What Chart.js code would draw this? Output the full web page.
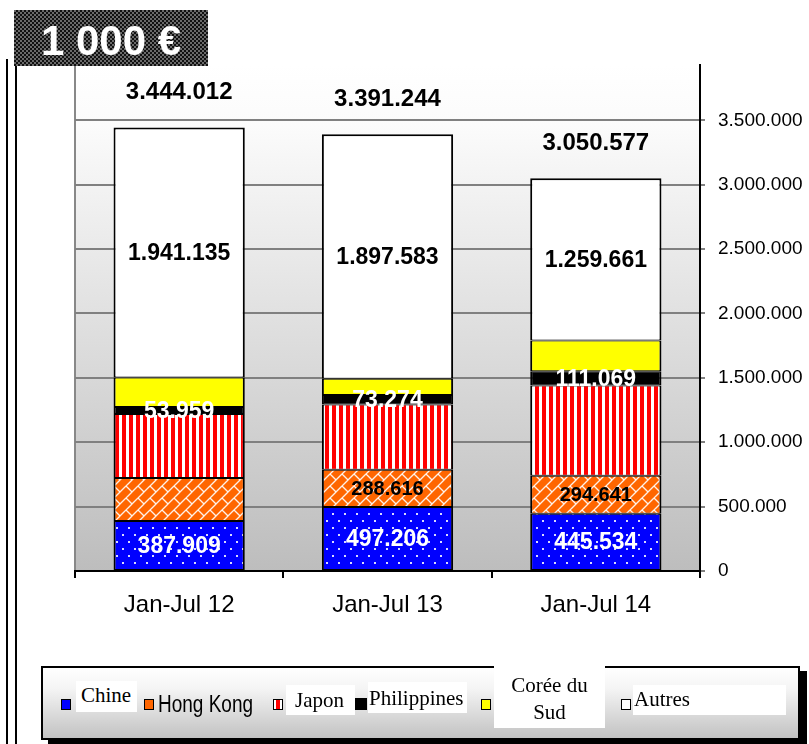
<!DOCTYPE html>
<html>
<head>
<meta charset="utf-8">
<script src="https://cdn.jsdelivr.net/npm/chart.js@4.4.1/dist/chart.umd.min.js"></script>
<style>
  body { margin: 0; background: #fff; }
  #wrap { position: relative; width: 809px; height: 744px; overflow: hidden; font-family: "Liberation Sans", Arial, sans-serif; }
  #myChart { position: absolute; left: 0; top: 0; }
  .vline { position: absolute; top: 59px; bottom: 0; background: #000; }
  #titre { position: absolute; left: 14px; top: 10px; width: 194px; height: 56px;
    background: repeating-conic-gradient(#111 0% 25%, #6a6a6a 0% 50%) 0 0 / 4px 4px;
    color: #fff; font: bold 42px "Liberation Sans", Arial, sans-serif; text-align: center; line-height: 62px; }
  #legende { position: absolute; left: 41px; top: 666px; width: 755px; height: 70px; border: 2px solid #000;
    background: linear-gradient(#ffffff 0%, #f4f4f4 30%, #c2c2c2 100%); box-shadow: 7px 5px 0 #000; }
  .mk { position: absolute; width: 8px; height: 9px; border: 1.5px solid #000; }
  .bx { position: absolute; background: #fff; font: 21px "Liberation Serif", "Times New Roman", serif; line-height: 21px; color: #000; white-space: nowrap; box-sizing: border-box; }
</style>
</head>
<body>
<div id="wrap">
  <canvas id="myChart" width="809" height="744"></canvas>
  <div class="vline" style="left:6px;width:2px"></div>
  <div class="vline" style="left:15px;width:1.5px"></div>
  <div id="titre">1 000 €</div>
  <div id="legende"></div>
  <!-- legend items, in page coordinates -->
  <div class="mk" style="left:61px;top:699px;background:#0000ff"></div>
  <div class="bx" style="left:76px;top:681px;width:61px;height:31px;padding:4px 0 0 5px">Chine</div>
  <div class="mk" style="left:144px;top:699px;background:#ff6600"></div>
  <div style="position:absolute;left:158px;top:696px;font:19px 'Liberation Sans',Arial,sans-serif;line-height:19px;transform:scaleY(1.3);transform-origin:0 16px;white-space:nowrap">Hong Kong</div>
  <div class="mk" style="left:273px;top:699px;background:linear-gradient(90deg,#fff 0 30%,#f00 30% 70%,#fff 70%)"></div>
  <div class="bx" style="left:286px;top:685px;width:69px;height:30px;padding:5px 0 0 9px">Japon</div>
  <div class="mk" style="left:355px;top:698px;width:10px;height:10px;background:#000"></div>
  <div class="bx" style="left:368px;top:682px;width:99px;height:31px;padding:6px 0 0 1px">Philippines</div>
  <div class="mk" style="left:481px;top:699px;background:#ffff00"></div>
  <div class="bx" style="left:494px;top:666px;width:111px;height:62px;padding-top:6px;line-height:27px;text-align:center">Corée du<br>Sud</div>
  <div class="mk" style="left:621px;top:699px;background:#fff"></div>
  <div class="bx" style="left:633px;top:685px;width:153px;height:30px;padding:4px 0 0 1px">Autres</div>
</div>
<script>
// Données (en 1 000 €)
const periodes = ['Jan-Jul 12', 'Jan-Jul 13', 'Jan-Jul 14'];
const chine = [387909, 497206, 445534];
const hongKong = [335000, 288616, 294641];
const japon = [497000, 507000, 700000];
const philippines = [53959, 73274, 111069];
const coreeDuSud = [229009, 127565, 239672];
const autres = [1941135, 1897583, 1259661];
const totaux = [3444012, 3391244, 3050577];
const yTicks = [0, 500000, 1000000, 1500000, 2000000, 2500000, 3000000, 3500000];

function fmt(v) {
    return String(v).replace(/\B(?=(\d{3})+(?!\d))/g, '.');
}

function motif(w, h, draw) {
    const c = document.createElement('canvas');
    c.width = w; c.height = h;
    const g = c.getContext('2d');
    draw(g, w, h);
    return g.createPattern(c, 'repeat');
}

const bleuPoints = motif(12, 14, (g, w, h) => {
    g.fillStyle = '#0000ff'; g.fillRect(0, 0, w, h);
    g.fillStyle = 'rgba(255,255,255,0.85)';
    g.fillRect(2, 2, 2, 2);
    g.fillRect(8, 9, 2, 2);
});
const orangeBriques = motif(12, 12, (g, w, h) => {
    g.fillStyle = '#ff6600'; g.fillRect(0, 0, w, h);
    g.strokeStyle = 'rgba(255,255,255,0.9)'; g.lineWidth = 1.3;
    for (let o = -12; o <= 12; o += 12) {
        g.beginPath(); g.moveTo(-2 + o, 14); g.lineTo(14 + o, -2); g.stroke();
    }
    g.beginPath(); g.moveTo(6, 6); g.lineTo(12, 12); g.stroke();
});
const rougeRayures = motif(7, 4, (g, w, h) => {
    g.fillStyle = '#ff0000'; g.fillRect(0, 0, w, h);
    g.fillStyle = '#ffffff'; g.fillRect(0, 0, 3, h);
});

const fond = {
    id: 'fond',
    beforeDraw(chart) {
        const { ctx, chartArea: a } = chart;
        const grad = ctx.createLinearGradient(0, a.top, 0, a.bottom);
        grad.addColorStop(0, '#ffffff');
        grad.addColorStop(0.12, '#fbfbfb');
        grad.addColorStop(1, '#bdbdbd');
        ctx.save();
        ctx.fillStyle = grad;
        ctx.fillRect(a.left, a.top, a.right - a.left, a.bottom - a.top);
        ctx.strokeStyle = '#888';
        ctx.lineWidth = 2;
        ctx.beginPath(); ctx.moveTo(a.left, a.top); ctx.lineTo(a.left, a.bottom); ctx.stroke();
        ctx.restore();
    }
};

const etiquettes = {
    id: 'etiquettes',
    afterDatasetsDraw(chart) {
        const ctx = chart.ctx;
        ctx.save();
        ctx.textAlign = 'center';
        ctx.textBaseline = 'middle';
        chart.data.datasets.forEach((ds, i) => {
            if (!ds.labelColor) return;
            const meta = chart.getDatasetMeta(i);
            meta.data.forEach((bar, j) => {
                if (ds.labelIdx && !ds.labelIdx.includes(j)) return;
                ctx.fillStyle = ds.labelColor;
                ctx.font = 'bold ' + (ds.labelSize || 23) + 'px "Liberation Sans", Arial, sans-serif';
                ctx.fillText(fmt(ds.data[j]), bar.x, (bar.y + bar.base) / 2 + 1);
            });
        });
        const top = chart.getDatasetMeta(chart.data.datasets.length - 1);
        ctx.fillStyle = '#000';
        ctx.font = 'bold 24px "Liberation Sans", Arial, sans-serif';
        top.data.forEach((bar, j) => {
            ctx.fillText(fmt(totaux[j]), bar.x, bar.y - 35);
        });
        ctx.restore();
    }
};

const commun = {
    borderColor: '#000',
    borderWidth: { top: 1, bottom: 1, left: 2, right: 2 },
    borderSkipped: false,
    barPercentage: 1,
    categoryPercentage: 0.63
};

new Chart(document.getElementById('myChart'), {
    type: 'bar',
    data: {
        labels: periodes,
        datasets: [
            { label: 'Chine', data: chine, backgroundColor: bleuPoints, labelColor: '#fff', ...commun },
            { label: 'Hong Kong', data: hongKong, backgroundColor: orangeBriques, labelColor: '#000', labelSize: 20, labelIdx: [1, 2], ...commun },
            { label: 'Japon', data: japon, backgroundColor: rougeRayures, ...commun },
            { label: 'Philippines', data: philippines, backgroundColor: '#000', labelColor: '#fff', ...commun },
            { label: 'Corée du Sud', data: coreeDuSud, backgroundColor: '#ffff00', ...commun },
            { label: 'Autres', data: autres, backgroundColor: '#fff', labelColor: '#000', ...commun, borderWidth: { top: 2, bottom: 1, left: 2, right: 2 } },
        ]
    },
    options: {
        responsive: false,
        animation: false,
        layout: { padding: { top: 65, left: 75, right: 0, bottom: 0 } },
        plugins: { legend: { display: false }, tooltip: { enabled: false } },
        scales: {
            x: {
                stacked: true,
                offset: true,
                afterFit(s) { s.height = 173; },
                grid: { display: true, drawOnChartArea: false, drawTicks: true, tickLength: 7, tickColor: '#000', lineWidth: 2, offset: true },
                border: { display: true, color: '#000', width: 2 },
                ticks: { color: '#000', padding: 13, font: { family: '"Liberation Sans", Arial, sans-serif', size: 24 } }
            },
            y: {
                stacked: true,
                position: 'right',
                min: 0,
                max: 3930000,
                afterFit(s) { s.width = 109; },
                afterBuildTicks(s) { s.ticks = yTicks.map(v => ({ value: v })); },
                grid: { color: '#808080', lineWidth: 2, drawTicks: true, tickLength: 5, tickColor: '#808080' },
                border: { display: true, color: '#000', width: 2 },
                ticks: {
                    color: '#000',
                    padding: 13,
                    font: { family: '"Liberation Sans", Arial, sans-serif', size: 19 },
                    callback: v => fmt(v)
                }
            }
        }
    },
    plugins: [fond, etiquettes]
});
</script>
</body>
</html>
